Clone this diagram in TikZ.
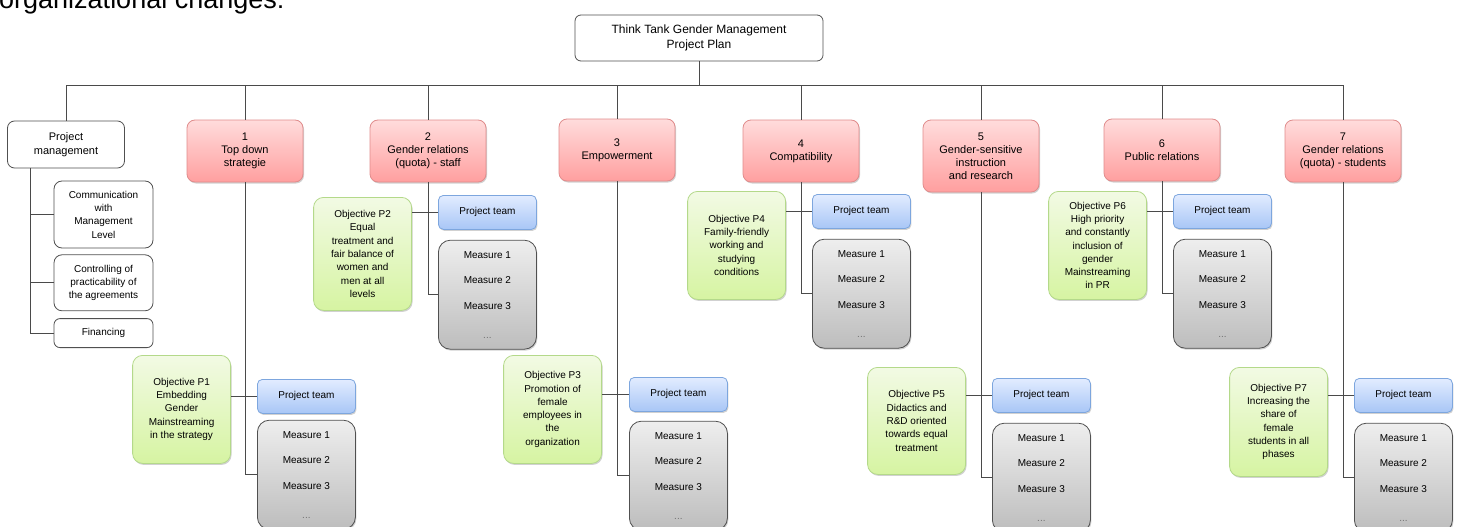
\documentclass[tikz,border=0pt]{standalone}
\usepackage{fontspec}
\setsansfont{Liberation Sans}
\usepackage{tikz}
\usetikzlibrary{positioning,shadows}
\definecolor{redtop}{HTML}{FFDCDC}
\definecolor{redbot}{HTML}{FF9F9F}
\definecolor{redline}{HTML}{E08C8C}
\definecolor{grntop}{HTML}{F2FAE4}
\definecolor{grnbot}{HTML}{D6F4A2}
\definecolor{grnline}{HTML}{B4D98A}
\definecolor{blutop}{HTML}{E2ECFF}
\definecolor{blubot}{HTML}{A8C6F6}
\definecolor{bluline}{HTML}{7DA6DE}
\definecolor{grytop}{HTML}{EEEEEE}
\definecolor{grybot}{HTML}{BDBDBD}
\definecolor{gryline}{HTML}{505050}
\definecolor{wire}{HTML}{4A4A4A}

\begin{document}
\begin{tikzpicture}[
  x=1pt,y=-1pt,
  font=\sffamily\fontsize{10}{13.3}\selectfont,
  soft/.style={drop shadow={shadow xshift=1pt,shadow yshift=-1.5pt,fill=black,opacity=0.18}},
  conn/.style={draw=wire,line width=0.9pt},
  plainbox/.style={draw=gryline,fill=white,rounded corners=6pt,align=center,inner sep=2pt,line width=0.8pt},
  topic/.style={soft,draw=redline,top color=redtop,bottom color=redbot,rounded corners=8pt,line width=0.8pt,
    minimum width=116pt,minimum height=62pt,align=center,font=\sffamily\fontsize{11}{13}\selectfont},
  goal/.style={soft,draw=grnline,top color=grntop,bottom color=grnbot,rounded corners=10pt,line width=0.8pt,
    minimum width=98pt,align=center,anchor=north east},
  team/.style={soft,draw=bluline,top color=blutop,bottom color=blubot,rounded corners=5pt,line width=0.8pt,
    minimum width=98pt,minimum height=34pt,anchor=north west},
  meas/.style={soft,draw=gryline,top color=grytop,bottom color=grybot,rounded corners=12pt,line width=0.8pt,
    minimum width=98pt,minimum height=109pt,align=center}
]
\fill[white] (0,0) rectangle (1458,527);
\path[use as bounding box] (0,0) rectangle (1458,527);
\clip (0,0) rectangle (1458,527);

\node[anchor=base west,inner sep=0pt,font=\sffamily\fontsize{27}{30}\selectfont] (intro) at (-1,9) {organizational changes:};

% top of the plan
\node[plainbox,minimum width=248pt,minimum height=46pt,font=\sffamily\fontsize{12}{15}\selectfont] (plan) at (699,38)
  {Think Tank Gender Management\\Project Plan};
\coordinate (bus) at (699,85);

\node[plainbox,minimum width=117pt,minimum height=47pt,rounded corners=7pt,font=\sffamily\fontsize{11}{13.5}\selectfont] (pm) at (66,144.5)
  {Project\\management};
\node[plainbox,minimum width=99pt,minimum height=67pt,rounded corners=8pt] (comm) at (103.5,214.5)
  {Communication\\with\\Management\\Level};
\node[plainbox,minimum width=99pt,minimum height=56pt,rounded corners=8pt,below=6pt of comm] (ctrl)
  {Controlling of\\practicability of\\the agreements};
\node[plainbox,minimum width=99pt,minimum height=29pt,below=7pt of ctrl] (fin) {Financing};

\node[topic] (s1) at (245,151) {1\\Top down\\strategie};
\node[topic] (s2) at (428,151) {2\\Gender relations\\(quota) - staff};
\node[topic] (s3) at (617,150) {3\\Empowerment};
\node[topic] (s4) at (801,151) {4\\Compatibility};
\node[topic,minimum height=72pt] (s5) at (981,156) {5\\Gender-sensitive\\instruction\\and research};
\node[topic] (s6) at (1162,150) {6\\Public relations};
\node[topic] (s7) at (1343,151) {7\\Gender relations\\(quota) - students};

% objectives
\node[goal,minimum height=108pt] (o1) at (231,355) {Objective P1\\Embedding\\Gender\\Mainstreaming\\in the strategy};
\node[goal,minimum height=113pt] (o2) at (412,197) {Objective P2\\Equal\\treatment and\\fair balance of\\women and\\men at all\\levels};
\node[goal,minimum height=108pt] (o3) at (602,355) {Objective P3\\Promotion of\\female\\employees in\\the\\organization};
\node[goal,minimum height=108pt] (o4) at (786,191) {Objective P4\\Family-friendly\\working and\\studying\\conditions};
\node[goal,minimum height=107pt] (o5) at (966,367) {Objective P5\\Didactics and\\R\&D oriented\\towards equal\\treatment};
\node[goal,minimum height=108pt] (o6) at (1147,191) {Objective P6\\High priority\\and constantly\\inclusion of\\gender\\Mainstreaming\\in PR};
\node[goal,minimum height=109pt] (o7) at (1328,367) {Objective P7\\Increasing the\\share of\\female\\students in all\\phases};

% project teams and measures
\node[team] (pt1) at (257,379) {Project team};
\node[team] (pt2) at (438,195) {Project team};
\node[team] (pt3) at (629,377) {Project team};
\node[team] (pt4) at (812,194) {Project team};
\node[team] (pt5) at (992,378) {Project team};
\node[team] (pt6) at (1173,194) {Project team};
\node[team] (pt7) at (1354,378) {Project team};

\node[meas,below=6pt of pt1] (ms1) {Measure 1\\[12.5pt]Measure 2\\[12.5pt]Measure 3\\[15pt]\textcolor{black!55}{...}};
\node[meas,below=10pt of pt2] (ms2) {Measure 1\\[12.5pt]Measure 2\\[12.5pt]Measure 3\\[15pt]\textcolor{black!55}{...}};
\node[meas,below=9pt of pt3] (ms3) {Measure 1\\[12.5pt]Measure 2\\[12.5pt]Measure 3\\[15pt]\textcolor{black!55}{...}};
\node[meas,below=10pt of pt4] (ms4) {Measure 1\\[12.5pt]Measure 2\\[12.5pt]Measure 3\\[15pt]\textcolor{black!55}{...}};
\node[meas,below=10pt of pt5] (ms5) {Measure 1\\[12.5pt]Measure 2\\[12.5pt]Measure 3\\[15pt]\textcolor{black!55}{...}};
\node[meas,below=10pt of pt6] (ms6) {Measure 1\\[12.5pt]Measure 2\\[12.5pt]Measure 3\\[15pt]\textcolor{black!55}{...}};
\node[meas,below=10pt of pt7] (ms7) {Measure 1\\[12.5pt]Measure 2\\[12.5pt]Measure 3\\[15pt]\textcolor{black!55}{...}};

% wiring
\draw[conn] (plan.south) -- (bus);
\draw[conn] (pm.north |- bus) -- (s7.north |- bus);
\draw[conn] (pm.north |- bus) -- (pm.north);
\draw[conn] (s1.north |- bus) -- (s1.north);
\draw[conn] (s2.north |- bus) -- (s2.north);
\draw[conn] (s3.north |- bus) -- (s3.north);
\draw[conn] (s4.north |- bus) -- (s4.north);
\draw[conn] (s5.north |- bus) -- (s5.north);
\draw[conn] (s6.north |- bus) -- (s6.north);
\draw[conn] (s7.north |- bus) -- (s7.north);

\coordinate (pmx) at ([xshift=23pt]pm.south west);
\draw[conn] (pmx) |- (fin.west);
\draw[conn] (pmx |- comm.west) -- (comm.west);
\draw[conn] (pmx |- ctrl.west) -- (ctrl.west);

\draw[conn] (s1.south) |- (ms1.west);
\draw[conn] (s2.south) |- (ms2.west);
\draw[conn] (s3.south) |- (ms3.west);
\draw[conn] (s4.south) |- (ms4.west);
\draw[conn] (s5.south) |- (ms5.west);
\draw[conn] (s6.south) |- (ms6.west);
\draw[conn] (s7.south) |- (ms7.west);

\draw[conn] (o1.east |- pt1.west) -- (pt1.west);
\draw[conn] (o2.east |- pt2.west) -- (pt2.west);
\draw[conn] (o3.east |- pt3.west) -- (pt3.west);
\draw[conn] (o4.east |- pt4.west) -- (pt4.west);
\draw[conn] (o5.east |- pt5.west) -- (pt5.west);
\draw[conn] (o6.east |- pt6.west) -- (pt6.west);
\draw[conn] (o7.east |- pt7.west) -- (pt7.west);
\end{tikzpicture}
\end{document}
